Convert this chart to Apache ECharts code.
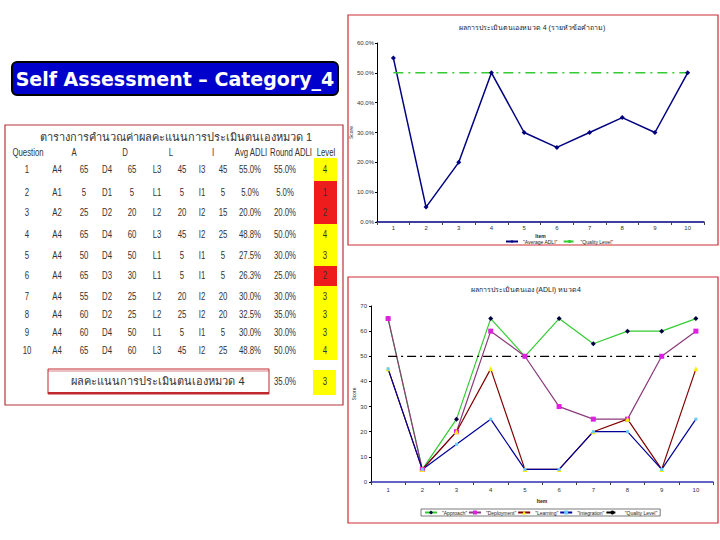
<!DOCTYPE html>
<html><head><meta charset="utf-8">
<script src="https://cdn.jsdelivr.net/npm/echarts@6/dist/echarts.min.js"></script>
<style>html,body{margin:0;padding:0;background:#fff}#c{width:720px;height:540px}</style>
</head><body><div id="c"></div>
<script>
// ---------- data ----------
const items = ['1','2','3','4','5','6','7','8','9','10'];
const avgAdli = [55, 5, 20, 50, 30, 25, 30, 35, 30, 50];
const qualityTop = [50, 50, 50, 50, 50, 50, 50, 50, 50, 50];
const approach = [65, 5, 25, 65, 50, 65, 55, 60, 60, 65];
const deployment = [65, 5, 20, 60, 50, 30, 25, 25, 50, 60];
const learning = [45, 5, 20, 45, 5, 5, 20, 25, 5, 45];
const integration = [45, 5, 15, 25, 5, 5, 20, 20, 5, 25];
const qualityBottom = [50, 50, 50, 50, 50, 50, 50, 50, 50, 50];
const topYTicks = [0, 10, 20, 30, 40, 50, 60];
const bottomYTicks = [0, 10, 20, 30, 40, 50, 60, 70];

const questions = ['1','2','3','4','5','6','7','8','9','10'];
const aCodes = ['A4','A1','A2','A4','A4','A4','A4','A4','A4','A4'];
const dCodes = ['D4','D1','D2','D4','D4','D3','D2','D2','D4','D4'];
const lCodes = ['L3','L1','L2','L3','L1','L1','L2','L2','L1','L3'];
const iCodes = ['I3','I1','I2','I2','I1','I1','I2','I2','I1','I2'];
const avgValues = [55.0, 5.0, 20.0, 48.8, 27.5, 26.3, 30.0, 32.5, 30.0, 48.8];
const roundValues = [55.0, 5.0, 20.0, 50.0, 30.0, 25.0, 30.0, 35.0, 30.0, 50.0];
const levels = [4, 1, 2, 4, 3, 2, 3, 3, 3, 4];
const finalScore = 35.0;
const finalLevel = 3;
const tableHeaders = ['Question','A','D','L','I','Avg ADLI','Round ADLI','Level'];

const bannerText = 'Self Assessment \u2013 Category_4';
const tableTitle = 'ตารางการคำนวณค่าผลคะแนนการประเมินตนเองหมวด 1';
const finalLabel = 'ผลคะแนนการประเมินตนเองหมวด 4';
const topTitle = 'ผลการประเมินตนเองหมวด 4 (รายหัวข้อคำถาม)';
const bottomTitle = 'ผลการประเมินตนเอง (ADLI) หมวด4';

// ---------- layout ----------
const FONT = 'Arial,"Liberation Sans",sans-serif';
const tf = (s) => s + 'px ' + FONT;
const colX = {q:27, aC:57, aV:84, dC:107, dV:132, lC:157, lV:182, iC:202, iV:223, avg:250, rnd:285, lvl:325};
const headerX = [28, 74, 125, 171, 213, 251, 291, 326];
const headerY = 153;
const rowY = [170, 193, 213, 235, 256, 276, 297, 315, 333, 351];
const rowEdges = [158, 181, 203, 224, 245, 266, 286, 306, 324, 342, 360];

const g = [];
// panels
g.push({type:'rect', shape:{x:5, y:125, width:338, height:280}, style:{fill:'#fff', stroke:'#b8343a', lineWidth:1.2}, z:0});
g.push({type:'rect', shape:{x:348, y:15, width:370, height:230}, style:{fill:'#fff', stroke:'#cc2e36', lineWidth:1.2}, z:0});
g.push({type:'rect', shape:{x:348, y:277, width:370, height:246}, style:{fill:'#fff', stroke:'#cc2e36', lineWidth:1.2}, z:0});
// banner
g.push({type:'rect', shape:{x:12, y:62, width:326, height:33, r:5}, style:{fill:'#0000cc', stroke:'#000', lineWidth:2}, z:1});
g.push({type:'text', x:175, y:79, style:{text:bannerText, fill:'#fff', font:'bold 19px "DejaVu Sans",Verdana,sans-serif', textAlign:'center', textVerticalAlign:'middle'}, z:2});
// table title & headers
g.push({type:'text', x:176, y:137, style:{text:tableTitle, fill:'#333', font:'11px sans-serif', textAlign:'center', textVerticalAlign:'middle'}, z:2});
const put = (txt, x, y) => g.push({type:'text', x, y, scaleX:0.78, style:{text:txt, fill:'#333', font:tf(10), textAlign:'center', textVerticalAlign:'middle'}, z:2});
tableHeaders.forEach((h, i) => put(h, headerX[i], headerY));
// level cells
levels.forEach((lv, i) => {
  g.push({type:'rect', shape:{x:314, y:rowEdges[i], width:23, height:rowEdges[i+1]-rowEdges[i]}, style:{fill: lv <= 2 ? '#ee1c1c' : '#ffff00'}, z:1});
});
// rows
questions.forEach((q, i) => {
  const y = rowY[i];
  put(q, colX.q, y);
  put(aCodes[i], colX.aC, y); put(String(approach[i]), colX.aV, y);
  put(dCodes[i], colX.dC, y); put(String(deployment[i]), colX.dV, y);
  put(lCodes[i], colX.lC, y); put(String(learning[i]), colX.lV, y);
  put(iCodes[i], colX.iC, y); put(String(integration[i]), colX.iV, y);
  put(avgValues[i].toFixed(1) + '%', colX.avg, y);
  put(roundValues[i].toFixed(1) + '%', colX.rnd, y);
  put(String(levels[i]), colX.lvl, y);
});
// final row
g.push({type:'rect', shape:{x:48, y:369, width:221, height:25}, style:{fill:'#fff', stroke:'#c0282e', lineWidth:1}, z:1});
g.push({type:'line', shape:{x1:48, y1:393, x2:269, y2:393}, style:{stroke:'#c0282e', lineWidth:2}, z:1});
g.push({type:'line', shape:{x1:48, y1:371, x2:269, y2:371}, style:{stroke:'#c0282e', lineWidth:0.6}, z:1});
g.push({type:'text', x:158, y:381, style:{text:finalLabel, fill:'#333', font:'11px sans-serif', textAlign:'center', textVerticalAlign:'middle'}, z:2});
put(finalScore.toFixed(1) + '%', colX.rnd, 382);
g.push({type:'rect', shape:{x:313, y:370, width:23, height:25}, style:{fill:'#ffff00'}, z:1});
put(String(finalLevel), colX.lvl, 382);

const axisLbl = {fontSize:6, color:'#333', fontFamily:FONT};
const chart = echarts.init(document.getElementById('c'), null, {renderer:'svg'});
chart.setOption({
  animation:false,
  backgroundColor:'#fff',
  graphic: g,
  title:[
    {text: topTitle, left:527, top:19, textAlign:'center', textStyle:{fontSize:7, fontWeight:'normal', color:'#222'}},
    {text: bottomTitle, left:521, top:281, textAlign:'center', textStyle:{fontSize:7, fontWeight:'normal', color:'#222'}}
  ],
  legend:[
    {data:['"Average ADLI"','"Quality Level"'], left:505, top:239, itemWidth:12, itemHeight:4, itemGap:5, padding:0,
     textStyle:{fontSize:5, color:'#222'}},
    {data:['"Approach"','"Deployment"','"Learning"','"Integration"',' "Quality Level"'], left:421, top:509,
     itemWidth:12, itemHeight:5, itemGap:1, padding:[1,3], borderColor:'#222', borderWidth:0.6,
     textStyle:{fontSize:5, color:'#222'}}
  ],
  grid:[
    {left:377, top:43, width:327, height:179, show:true, borderColor:'#000080', borderWidth:1.5, backgroundColor:'#fff'},
    {left:371, top:306, width:342, height:176, show:true, borderColor:'#3030b0', borderWidth:1.5, backgroundColor:'#fff'}
  ],
  xAxis:[
    {type:'category', gridIndex:0, data:items, boundaryGap:true,
     axisLine:{lineStyle:{color:'#000080', width:1.5}}, axisTick:{show:true, length:3, lineStyle:{color:'#444'}},
     axisLabel:Object.assign({margin:3}, axisLbl), name:'Item', nameLocation:'middle', nameGap:11, nameTextStyle:{fontSize:5, fontWeight:'bold', color:'#222'}},
    {type:'category', gridIndex:1, data:items, boundaryGap:true,
     axisLine:{lineStyle:{color:'#3030b0', width:1.5}}, axisTick:{show:true, length:3, lineStyle:{color:'#444'}},
     axisLabel:Object.assign({margin:5}, axisLbl), name:'Item', nameLocation:'middle', nameGap:16, nameTextStyle:{fontSize:5, fontWeight:'bold', color:'#222'}}
  ],
  yAxis:[
    {type:'value', gridIndex:0, min:topYTicks[0], max:topYTicks[topYTicks.length-1], interval:10,
     axisLine:{show:true, lineStyle:{color:'#000', width:1}}, axisTick:{show:true, length:2}, splitLine:{show:false},
     axisLabel:Object.assign({formatter:(v)=>v.toFixed(1)+'%', margin:3}, axisLbl),
     name:'Score', nameLocation:'middle', nameGap:20, nameTextStyle:{fontSize:5, color:'#222'}},
    {type:'value', gridIndex:1, min:bottomYTicks[0], max:bottomYTicks[bottomYTicks.length-1], interval:10,
     axisLine:{show:true, lineStyle:{color:'#000', width:1}}, axisTick:{show:true, length:2}, splitLine:{show:false},
     axisLabel:Object.assign({margin:4}, axisLbl),
     name:'Score', nameLocation:'middle', nameGap:14, nameTextStyle:{fontSize:5, color:'#222'}}
  ],
  series:[
    {name:'"Average ADLI"', type:'line', xAxisIndex:0, yAxisIndex:0, data:avgAdli,
     symbol:'diamond', symbolSize:5, lineStyle:{color:'#000080', width:1.5}, itemStyle:{color:'#000080'}},
    {name:'"Quality Level"', type:'line', xAxisIndex:0, yAxisIndex:0, data:qualityTop,
     symbol:'none', lineStyle:{color:'#33cc33', width:1.5, type:[10,5,2,5]}, itemStyle:{color:'#33cc33'}},
    {name:'"Approach"', type:'line', xAxisIndex:1, yAxisIndex:1, data:approach,
     symbol:'diamond', symbolSize:5, lineStyle:{color:'#33cc33', width:1.2}, itemStyle:{color:'#000040'}},
    {name:'"Deployment"', type:'line', xAxisIndex:1, yAxisIndex:1, data:deployment,
     symbol:'rect', symbolSize:5, lineStyle:{color:'#8b3a7a', width:1.2}, itemStyle:{color:'#e020e0'}},
    {name:'"Learning"', type:'line', xAxisIndex:1, yAxisIndex:1, data:learning,
     symbol:'triangle', symbolSize:5, lineStyle:{color:'#800000', width:1.2}, itemStyle:{color:'#ffee00'}},
    {name:'"Integration"', type:'line', xAxisIndex:1, yAxisIndex:1, data:integration,
     symbol:'rect', symbolSize:3, lineStyle:{color:'#000099', width:1.2}, itemStyle:{color:'#66ccff'}},
    {name:' "Quality Level"', type:'line', xAxisIndex:1, yAxisIndex:1, data:qualityBottom,
     symbol:'none', lineStyle:{color:'#000', width:1.3, type:[9,4,2,4]}, itemStyle:{color:'#000'}}
  ]
});
</script></body></html>
